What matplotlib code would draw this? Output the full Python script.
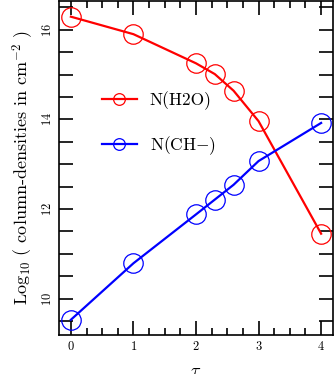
import numpy as np
import matplotlib
matplotlib.use("Agg")
import matplotlib.pyplot as plt
from matplotlib.ticker import MultipleLocator

plt.rcParams['font.family'] = 'cmr10'
plt.rcParams['mathtext.fontset'] = 'cm'
plt.rcParams['axes.unicode_minus'] = False
plt.rcParams['axes.formatter.use_mathtext'] = True

tau = [0.0, 1.0, 2.0, 2.3, 2.6, 3.0, 4.0]
n_h2o = [16.29, 15.90, 15.25, 15.01, 14.64, 13.96, 11.45]
n_ch = [9.53, 10.79, 11.88, 12.21, 12.54, 13.07, 13.92]

fig = plt.figure(figsize=(3.34, 3.74), dpi=100)
ax = fig.add_axes([59/334, 1 - 335/374, 274/334, 334/374])

ax.plot(tau, n_h2o, color='red', lw=1.6, marker='o', ms=14, mfc='none',
        mec='red', mew=0.9, label='N(H2O)')
ax.plot(tau, n_ch, color='blue', lw=1.6, marker='o', ms=14, mfc='none',
        mec='blue', mew=0.9, label='N(CH$-$)')

ax.set_xlim(-0.19, 4.19)
ax.set_ylim(9.19, 16.64)
ax.xaxis.set_major_locator(MultipleLocator(1))
ax.xaxis.set_minor_locator(MultipleLocator(0.25))
ax.yaxis.set_major_locator(MultipleLocator(2))
ax.yaxis.set_minor_locator(MultipleLocator(0.5))
ax.tick_params(which='both', direction='in', top=True, right=True, width=1.2)
ax.tick_params(which='major', length=10, labelsize=9)
ax.tick_params(which='minor', length=5)
ax.tick_params(axis='y', which='minor', length=10)
for lab in ax.get_yticklabels():
    lab.set_rotation(90)
    lab.set_va('center')
for s in ax.spines.values():
    s.set_linewidth(1.2)

ax.set_xlabel(r'$\tau$', fontsize=13, labelpad=8)
ax.set_ylabel(r'Log$_{10}$ ( column-densities in cm$^{-2}$ )', fontsize=13, labelpad=4)

ax.legend(loc='center left', bbox_to_anchor=(0.157, 0.632), frameon=False,
          borderpad=0, borderaxespad=0, markerscale=0.6, fontsize=12.5,
          handlelength=2.0, handletextpad=0.75, labelspacing=1.4)

fig.savefig('out.png', dpi=100)
